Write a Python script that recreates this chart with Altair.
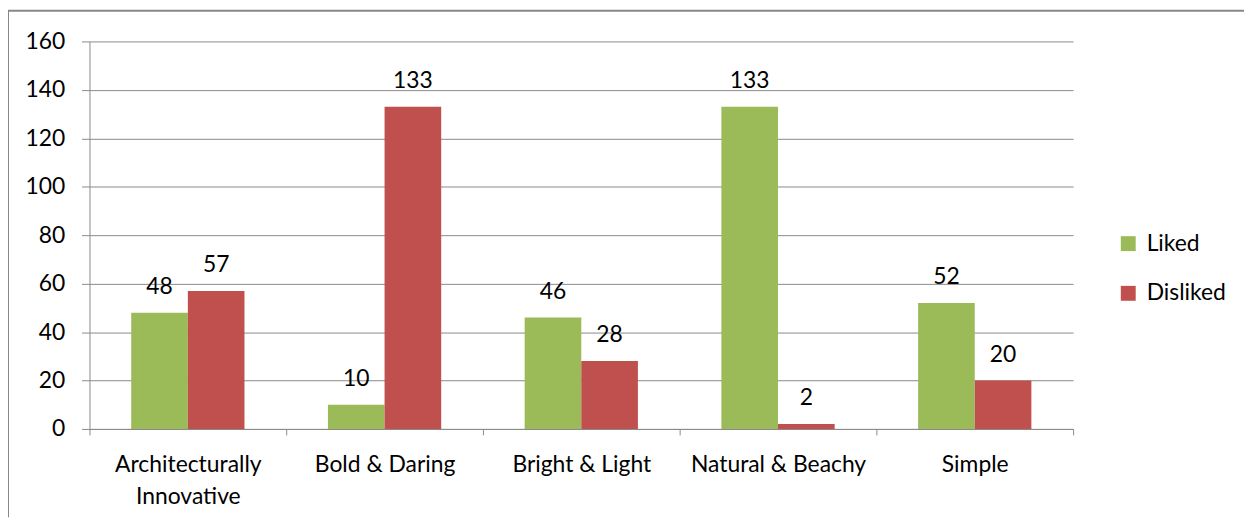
import altair as alt
import pandas as pd

categories = ["Architecturally Innovative", "Bold & Daring", "Bright & Light", "Natural & Beachy", "Simple"]
liked = [48, 10, 46, 133, 52]
disliked = [57, 133, 28, 2, 20]
series = ["Liked", "Disliked"]
colors = ["#9BBB59", "#C0504D"]

rows = []
for c, l, d in zip(categories, liked, disliked):
    rows.append({"category": c, "series": "Liked", "value": l})
    rows.append({"category": c, "series": "Disliked", "value": d})
df = pd.DataFrame(rows)

FONT = "Lato"
FS = 23
GRID = "#8a8a8a"

x = alt.X("category:N", sort=categories, title=None,
          scale=alt.Scale(paddingInner=0, paddingOuter=0),
          axis=alt.Axis(labelAngle=0, tickBand="extent", tickSize=6, tickColor=GRID,
                        domainColor=GRID, labelFontSize=FS, labelFont=FONT, labelColor="#000",
                        labelPadding=19, labelLineHeight=32,
                        labelExpr="datum.label == 'Architecturally Innovative' ? ['Architecturally', 'Innovative'] : datum.label"))
xo = alt.XOffset("series:N", sort=series,
                 scale=alt.Scale(paddingInner=0, paddingOuter=0.737))
y = alt.Y("value:Q", title=None,
          scale=alt.Scale(domain=[0, 160], nice=False),
          axis=alt.Axis(values=list(range(0, 161, 20)), tickSize=8, tickColor=GRID,
                        domainColor=GRID, gridColor=GRID, grid=True,
                        labelFontSize=FS, labelFont=FONT, labelColor="#000", labelPadding=17))

bars = alt.Chart(df).mark_bar().encode(
    x=x, xOffset=xo, y=y,
    color=alt.Color("series:N", sort=series, title=None,
                    scale=alt.Scale(domain=series, range=colors),
                    legend=alt.Legend(orient="none", legendX=1034, legendY=192,
                                      symbolType="square", symbolSize=225, symbolStrokeWidth=0,
                                      labelFontSize=FS, labelFont=FONT, labelColor="#000",
                                      rowPadding=26, labelOffset=7)),
)

labels = alt.Chart(df).mark_text(fontSize=FS, font=FONT, color="#000", baseline="alphabetic", dy=-19).encode(
    x=x, xOffset=xo, y=y, text=alt.Text("value:Q"),
)

frame_top = alt.Chart(alt.Data(values=[{}])).mark_rule(stroke="#888888", strokeWidth=2).encode(
    x=alt.value(-82), x2=alt.value(1162), y=alt.value(-31),
)
frame_left = alt.Chart(alt.Data(values=[{}])).mark_rule(stroke="#888888", strokeWidth=2).encode(
    x=alt.value(-82), y=alt.value(-31), y2=alt.value(479),
)

chart = alt.layer(frame_top, frame_left, bars, labels).properties(
    width=990, height=390,
    autosize=alt.AutoSizeParams(type="none"),
    padding={"left": 82, "top": 32, "right": 172, "bottom": 89},
).configure_view(stroke=None)

chart.save("out.html", embed_options={"renderer": "svg", "actions": False})
